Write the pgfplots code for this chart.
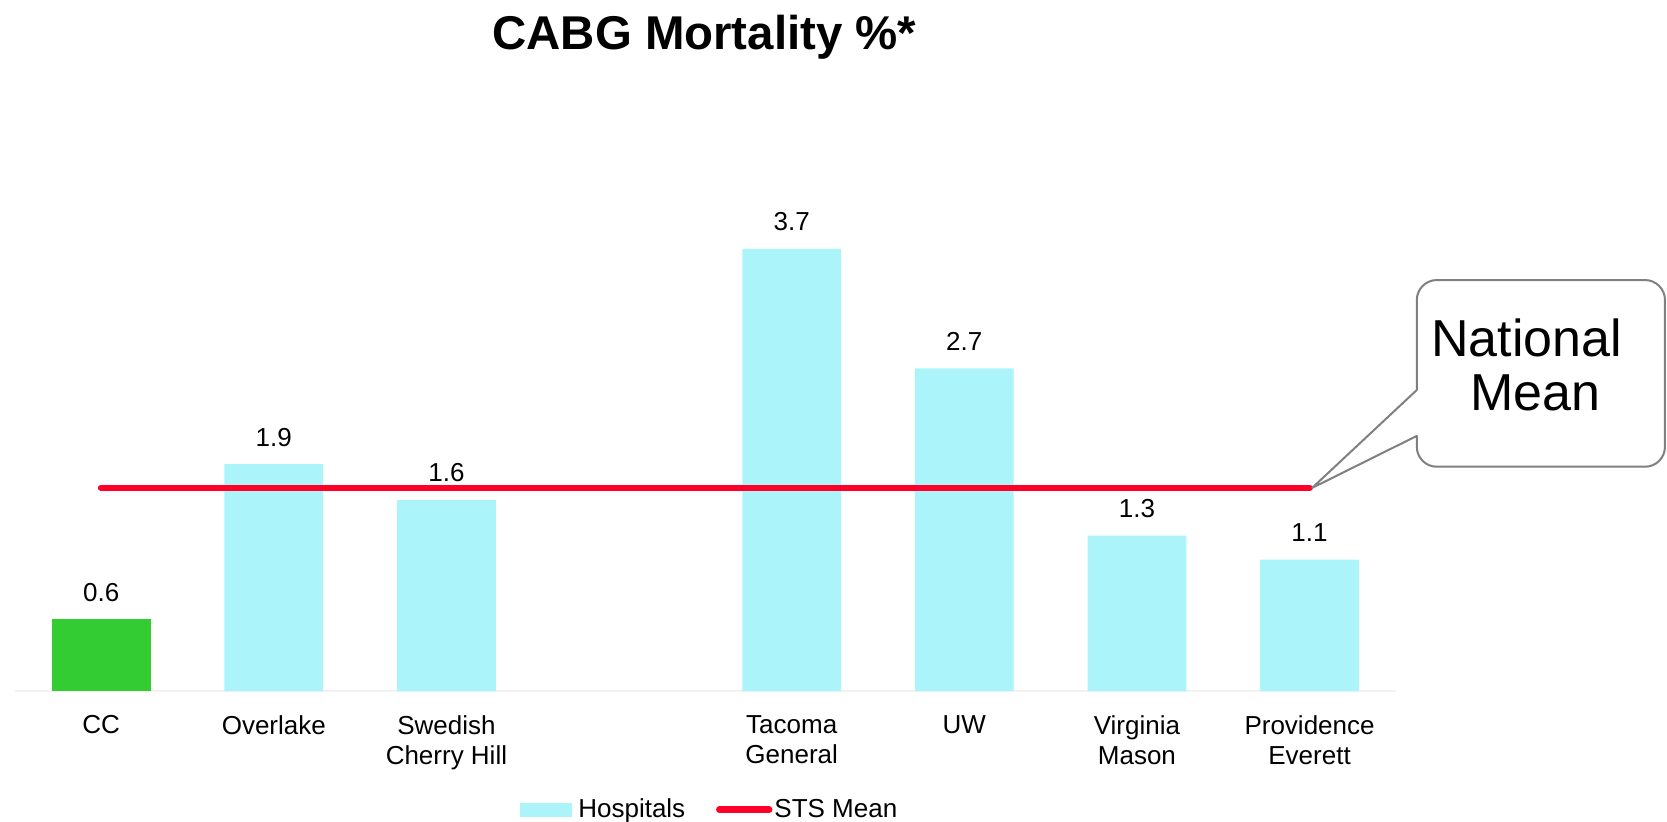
\documentclass[border=0pt]{standalone}
\usepackage{fontspec}
\setmainfont{Liberation Sans}
\usepackage{pgfplots}
\pgfplotsset{compat=1.18}
\definecolor{hosp}{RGB}{170,244,250}
\definecolor{ccgreen}{RGB}{51,204,51}
\definecolor{stsred}{RGB}{255,0,40}
\definecolor{callgray}{RGB}{128,128,128}
\definecolor{baseln}{RGB}{242,242,242}
\begin{document}
\begin{tikzpicture}
\useasboundingbox (0,0) rectangle (833.5pt,-410.9pt);
\begin{axis}[
  at={(7.44pt,-345.54pt)}, anchor=south west,
  scale only axis, width=690.5pt, height=268.9pt,
  xmin=-0.5, xmax=7.5, ymin=0, ymax=4.5,
  axis x line*=bottom, axis y line=none,
  x axis line style={draw=baseln, line width=1.2pt, -},
  xtick={0,1,2,4,5,6,7},
  xticklabels={CC, Overlake, {Swedish\\Cherry Hill}, {Tacoma\\General}, UW, {Virginia\\Mason}, {Providence\\Everett}},
  xtick style={draw=none}, major tick length=0pt,
  xticklabel style={anchor=north, align=center, inner sep=0pt, yshift=-12pt, font=\fontsize{13}{15}\selectfont},
  ytick=\empty,
  /pgf/number format/assume math mode=true,
  clip=false,
  legend columns=-1,
  legend style={at={(0.3657,-0.2208)}, anchor=west, draw=none, fill=none,
    inner sep=0pt, outer sep=0pt, font=\fontsize{13}{15}\selectfont,
    nodes={inner sep=0pt},
    /tikz/every odd column/.append style={column sep=1pt},
    /tikz/every even column/.append style={column sep=15.4pt}},
]
\addplot[ybar, bar width=49.4pt, bar shift=0pt, fill=hosp, draw=none,
  nodes near coords={\pgfmathprintnumber[fixed,fixed zerofill,precision=1]{\pgfplotspointmeta}},
  every node near coord/.append style={inner sep=0pt, yshift=8.8pt, text depth=0pt, text=black, font=\fontsize{13}{15}\selectfont},
  legend image code/.code={\fill[hosp] (0pt,-3.35pt) rectangle (26pt,3.35pt); \path (0pt,0pt) -- (28.2pt,0pt);}]
  coordinates {(1,1.9) (2,1.6) (4,3.7) (5,2.7) (6,1.3) (7,1.1)};
\addlegendentry{Hospitals}
\addplot[ybar, bar width=49.4pt, bar shift=0pt, fill=ccgreen, draw=none, forget plot,
  nodes near coords={\pgfmathprintnumber[fixed,fixed zerofill,precision=1]{\pgfplotspointmeta}},
  every node near coord/.append style={inner sep=0pt, yshift=8.8pt, text depth=0pt, text=black, font=\fontsize{13}{15}\selectfont}]
  coordinates {(0,0.6)};
\addplot[stsred, line width=3.4pt, line cap=round, sharp plot, no marks,
  legend image code/.code={\draw[stsred, line width=3.4pt, line cap=round] (1.7pt,0pt) -- (26.5pt,0pt);}]
  coordinates {(0,1.7) (7,1.7)};
\addlegendentry{STS Mean}
\coordinate (tip) at (axis cs:7.015,1.7);
\end{axis}
\begin{scope}[x=0.5316pt, y=-0.5316pt]
\node[anchor=base, inner sep=0pt, font=\fontsize{23.7}{28}\selectfont\bfseries] at (662.5,46.4) {CABG Mortality \%*};
\draw[callgray, line width=1pt, line join=round]
  (1332.6,366.8) [rounded corners=10pt] -- (1332.6,263.4) -- (1566,263.4) -- (1566,439) -- (1332.6,439) [sharp corners] -- (1332.6,410) -- (tip) -- cycle;
\node[anchor=base, inner sep=0pt, font=\fontsize{26}{30}\selectfont] at (1436,335.5) {National};
\node[anchor=base, inner sep=0pt, font=\fontsize{26}{30}\selectfont] at (1444,385.7) {Mean};
\end{scope}
\end{tikzpicture}
\end{document}
